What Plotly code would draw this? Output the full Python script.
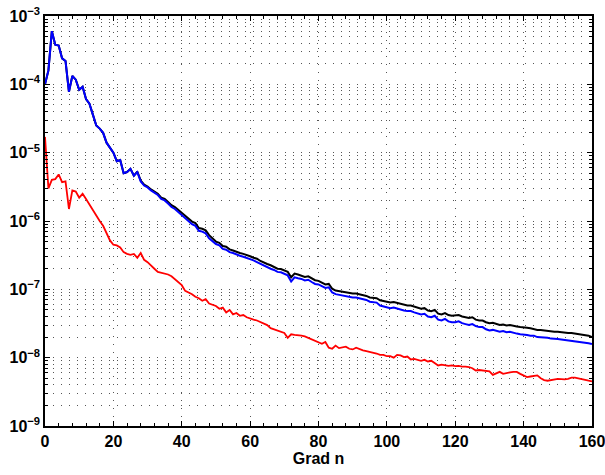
import plotly.graph_objects as go

# Grad n = 0..160
grad = list(range(161))

blau = [
    1.0e-4, 1.6e-4, 6.0e-4, 3.8e-4, 3.7e-4, 2.4e-4, 2.2e-4, 7.8e-5, 1.33e-4, 1.17e-4,
    8.3e-5, 9.2e-5, 6.1e-5, 5.2e-5, 3.6e-5, 2.5e-5, 2.25e-5, 1.95e-5, 1.4e-5, 1.2e-5,
    1.0e-5, 7.5e-6, 7.8e-6, 5.0e-6, 5.2e-6, 5.8e-6, 4.6e-6, 5.2e-6, 3.8e-6, 3.3e-6,
    3.1e-6, 2.8e-6, 2.6e-6, 2.4e-6, 2.1e-6, 2.0e-6, 1.8e-6, 1.6e-6, 1.5e-6, 1.35e-6,
    1.2e-6, 1.08e-6, 1.0e-6, 9.0e-7, 8.5e-7, 7.2e-7, 7.0e-7, 6.6e-7, 5.6e-7, 5.0e-7,
    4.6e-7, 4.4e-7, 3.9e-7, 3.8e-7, 3.5e-7, 3.4e-7, 3.2e-7, 3.1e-7, 3.0e-7, 2.9e-7,
    2.75e-7, 2.65e-7, 2.5e-7, 2.35e-7, 2.2e-7, 2.1e-7, 2.0e-7, 1.92e-7, 1.8e-7, 1.78e-7,
    1.7e-7, 1.6e-7, 1.3e-7, 1.5e-7, 1.45e-7, 1.42e-7, 1.35e-7, 1.38e-7, 1.28e-7, 1.2e-7,
    1.18e-7, 1.1e-7, 1.05e-7, 1.07e-7, 9.0e-8, 8.5e-8, 8.3e-8, 8.2e-8, 7.9e-8, 7.9e-8,
    7.6e-8, 7.6e-8, 7.4e-8, 7.1e-8, 7.0e-8, 6.6e-8, 6.5e-8, 6.4e-8, 5.8e-8, 5.6e-8,
    5.4e-8, 5.3e-8, 5.4e-8, 5.2e-8, 5.0e-8, 4.9e-8, 4.8e-8, 4.8e-8, 4.6e-8, 4.5e-8,
    4.3e-8, 4.4e-8, 4.0e-8, 3.9e-8, 4.1e-8, 3.6e-8, 3.5e-8, 3.7e-8, 3.4e-8, 3.3e-8,
    3.3e-8, 3.4e-8, 3.2e-8, 3.1e-8, 3.0e-8, 3.1e-8, 2.9e-8, 2.8e-8, 2.8e-8, 2.6e-8,
    2.5e-8, 2.55e-8, 2.5e-8, 2.4e-8, 2.45e-8, 2.35e-8, 2.4e-8, 2.3e-8, 2.25e-8, 2.2e-8,
    2.2e-8, 2.15e-8, 2.1e-8, 2.1e-8, 2.0e-8, 2.0e-8, 1.95e-8, 1.95e-8, 1.9e-8, 1.9e-8,
    1.88e-8, 1.85e-8, 1.82e-8, 1.8e-8, 1.78e-8, 1.75e-8, 1.72e-8, 1.7e-8, 1.68e-8, 1.63e-8,
    1.58e-8,
]

schwarz = [
    1.0e-4, 1.6e-4, 6.0e-4, 3.8e-4, 3.7e-4, 2.4e-4, 2.2e-4, 7.8e-5, 1.33e-4, 1.17e-4,
    8.3e-5, 9.2e-5, 6.1e-5, 5.2e-5, 3.6e-5, 2.5e-5, 2.25e-5, 1.95e-5, 1.4e-5, 1.2e-5,
    1.0e-5, 7.5e-6, 7.8e-6, 5.0e-6, 5.2e-6, 5.8e-6, 4.6e-6, 5.3e-6, 3.9e-6, 3.4e-6,
    3.2e-6, 2.9e-6, 2.7e-6, 2.5e-6, 2.2e-6, 2.1e-6, 1.9e-6, 1.7e-6, 1.6e-6, 1.45e-6,
    1.3e-6, 1.16e-6, 1.08e-6, 9.8e-7, 9.3e-7, 7.9e-7, 7.7e-7, 7.3e-7, 6.2e-7, 5.5e-7,
    5.0e-7, 4.8e-7, 4.3e-7, 4.2e-7, 3.85e-7, 3.7e-7, 3.5e-7, 3.4e-7, 3.3e-7, 3.2e-7,
    3.05e-7, 2.9e-7, 2.8e-7, 2.6e-7, 2.45e-7, 2.35e-7, 2.25e-7, 2.15e-7, 2.0e-7, 1.98e-7,
    1.9e-7, 1.8e-7, 1.5e-7, 1.7e-7, 1.65e-7, 1.6e-7, 1.52e-7, 1.55e-7, 1.45e-7, 1.36e-7,
    1.33e-7, 1.25e-7, 1.18e-7, 1.2e-7, 1.02e-7, 9.6e-8, 9.4e-8, 9.3e-8, 9.0e-8, 9.0e-8,
    8.7e-8, 8.7e-8, 8.5e-8, 8.2e-8, 8.0e-8, 7.6e-8, 7.5e-8, 7.4e-8, 6.9e-8, 6.7e-8,
    6.5e-8, 6.4e-8, 6.5e-8, 6.3e-8, 6.1e-8, 6.0e-8, 5.8e-8, 5.8e-8, 5.6e-8, 5.4e-8,
    5.2e-8, 5.3e-8, 4.9e-8, 4.8e-8, 5.0e-8, 4.4e-8, 4.3e-8, 4.5e-8, 4.2e-8, 4.1e-8,
    4.1e-8, 4.2e-8, 4.0e-8, 3.9e-8, 3.8e-8, 3.9e-8, 3.6e-8, 3.5e-8, 3.5e-8, 3.3e-8,
    3.2e-8, 3.25e-8, 3.15e-8, 3.0e-8, 3.05e-8, 2.95e-8, 3.0e-8, 2.9e-8, 2.85e-8, 2.8e-8,
    2.8e-8, 2.75e-8, 2.7e-8, 2.6e-8, 2.55e-8, 2.55e-8, 2.5e-8, 2.45e-8, 2.45e-8, 2.4e-8,
    2.4e-8, 2.35e-8, 2.35e-8, 2.3e-8, 2.3e-8, 2.25e-8, 2.2e-8, 2.2e-8, 2.15e-8, 2.1e-8,
    2.0e-8,
]

rot = [
    1.7e-5, 3.0e-6, 4.0e-6, 4.1e-6, 4.8e-6, 3.7e-6, 3.8e-6, 1.5e-6, 2.8e-6, 2.7e-6,
    2.2e-6, 2.5e-6, 2.1e-6, 1.75e-6, 1.4e-6, 1.2e-6, 1.0e-6, 8.5e-7, 6.5e-7, 5.2e-7,
    4.5e-7, 4.4e-7, 4.1e-7, 3.5e-7, 3.3e-7, 3.2e-7, 3.3e-7, 2.9e-7, 3.4e-7, 2.7e-7,
    2.5e-7, 2.2e-7, 2.0e-7, 1.8e-7, 1.75e-7, 1.7e-7, 1.65e-7, 1.55e-7, 1.4e-7, 1.3e-7,
    1.15e-7, 9.5e-8, 9.0e-8, 8.5e-8, 7.8e-8, 7.4e-8, 6.8e-8, 7.2e-8, 6.2e-8, 6.0e-8,
    5.7e-8, 5.2e-8, 5.4e-8, 4.6e-8, 5.0e-8, 4.3e-8, 4.5e-8, 4.1e-8, 4.2e-8, 3.9e-8,
    3.7e-8, 3.6e-8, 3.5e-8, 3.3e-8, 3.2e-8, 3.0e-8, 2.7e-8, 2.6e-8, 2.5e-8, 2.4e-8,
    2.3e-8, 1.95e-8, 2.2e-8, 2.15e-8, 2.15e-8, 2.1e-8, 2.05e-8, 1.95e-8, 1.85e-8, 1.75e-8,
    1.65e-8, 1.6e-8, 1.7e-8, 1.4e-8, 1.35e-8, 1.5e-8, 1.38e-8, 1.42e-8, 1.45e-8, 1.35e-8,
    1.32e-8, 1.4e-8, 1.32e-8, 1.28e-8, 1.25e-8, 1.22e-8, 1.18e-8, 1.15e-8, 1.1e-8, 1.1e-8,
    1.05e-8, 1.05e-8, 1.0e-8, 1.1e-8, 1.08e-8, 1.02e-8, 1.04e-8, 9.4e-9, 9.6e-9, 9.2e-9,
    9.0e-9, 9.3e-9, 8.8e-9, 9.0e-9, 8.2e-9, 7.7e-9, 7.9e-9, 7.8e-9, 7.6e-9, 7.7e-9,
    7.5e-9, 7.6e-9, 7.4e-9, 7.4e-9, 7.3e-9, 7.0e-9, 6.5e-9, 6.6e-9, 6.5e-9, 6.4e-9,
    6.3e-9, 5.6e-9, 5.9e-9, 6.2e-9, 5.8e-9, 6.0e-9, 6.1e-9, 6.2e-9, 6.2e-9, 5.8e-9,
    5.5e-9, 5.2e-9, 5.3e-9, 5.4e-9, 5.5e-9, 5.0e-9, 4.7e-9, 4.6e-9, 4.7e-9, 4.8e-9,
    4.9e-9, 4.85e-9, 4.8e-9, 4.9e-9, 5.1e-9, 5.1e-9, 5.0e-9, 4.9e-9, 4.8e-9, 4.6e-9,
    4.5e-9,
]

y_ticks = [1e-9, 1e-8, 1e-7, 1e-6, 1e-5, 1e-4, 1e-3]
y_labels = ['10<sup>−9</sup>', '10<sup>−8</sup>', '10<sup>−7</sup>', '10<sup>−6</sup>',
            '10<sup>−5</sup>', '10<sup>−4</sup>', '10<sup>−3</sup>']
x_ticks = [0, 20, 40, 60, 80, 100, 120, 140, 160]

FONT = 'Liberation Sans, Arial, sans-serif'
GRID = dict(gridcolor='#555555', griddash='1px,7px', gridwidth=1)

fig = go.Figure()
fig.add_trace(go.Scatter(x=grad, y=schwarz, mode='lines', line=dict(color='#000000', width=2)))
fig.add_trace(go.Scatter(x=grad, y=blau, mode='lines', line=dict(color='#0000ff', width=2)))
fig.add_trace(go.Scatter(x=grad, y=rot, mode='lines', line=dict(color='#ff0000', width=1.8)))

axis_common = dict(
    showline=True, linecolor='black', linewidth=1.5, mirror='ticks',
    ticks='inside', ticklen=5, tickcolor='black',
    showgrid=True, **GRID,
    zeroline=False, automargin=False, ticklabeloverflow='allow',
    tickfont=dict(family=FONT, size=16, color='black', weight='bold'),
)

fig.update_xaxes(
    **axis_common, range=[0, 160], tickvals=x_ticks,
    minor=dict(dtick=4, tick0=0, ticks='inside', ticklen=3, tickcolor='black', showgrid=False),
    title=dict(text='Grad n', font=dict(family=FONT, size=16, color='black', weight='bold'), standoff=2),
)
fig.update_yaxes(
    **axis_common, type='log', range=[-9, -3], tickvals=y_ticks, ticktext=y_labels,
    minor=dict(dtick='D1', ticks='inside', ticklen=3, tickcolor='black', showgrid=True, **GRID),
)

fig.update_layout(
    width=605, height=475,
    paper_bgcolor='white', plot_bgcolor='white',
    showlegend=False,
    margin=dict(l=45, r=13, t=16, b=49),
)

# drop the default 8px page margin so the figure fills the window
fig.write_html('out.html', config={'displayModeBar': False},
               post_script="document.body.style.margin='0';")
